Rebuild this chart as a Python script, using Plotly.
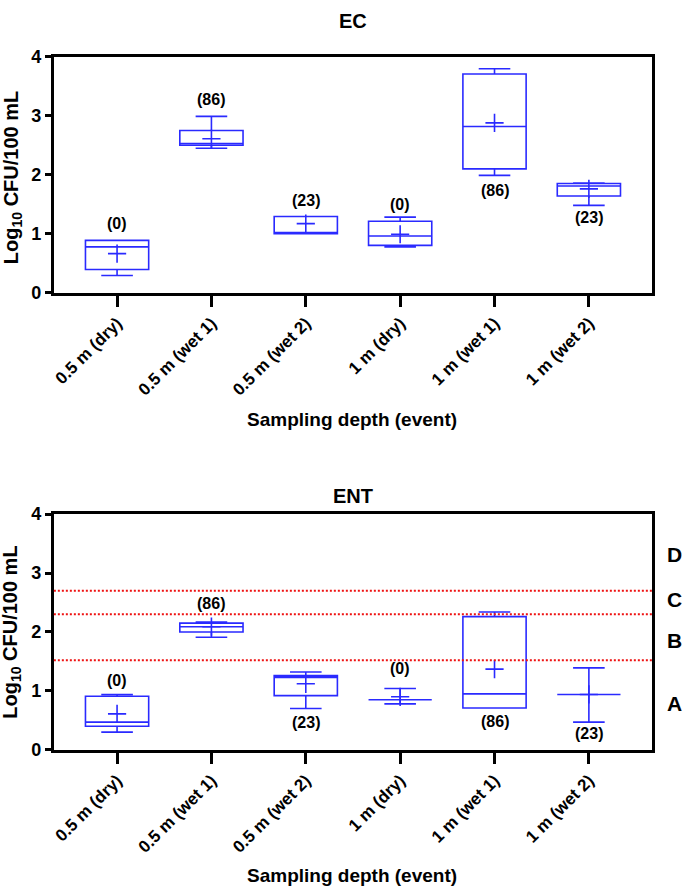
import plotly.graph_objects as go

categories = ["0.5 m (dry)", "0.5 m (wet 1)", "0.5 m (wet 2)", "1 m (dry)", "1 m (wet 1)", "1 m (wet 2)"]

# EC panel
ec_low = [0.29, 2.45, 1.00, 0.775, 1.99, 1.48]
ec_q1 = [0.39, 2.50, 1.00, 0.80, 2.10, 1.64]
ec_med = [0.775, 2.53, 1.00, 0.96, 2.82, 1.81]
ec_q3 = [0.885, 2.75, 1.29, 1.21, 3.71, 1.85]
ec_high = [0.885, 2.99, 1.29, 1.28, 3.80, 1.86]
ec_mean = [0.66, 2.61, 1.17, 0.99, 2.88, 1.76]
ec_n = ["(0)", "(86)", "(23)", "(0)", "(86)", "(23)"]
ec_n_y = [1.18, 3.27, 1.57, 1.50, 1.73, 1.27]

# ENT panel
ent_low = [0.30, 1.91, 0.70, 0.78, 0.71, 0.47]
ent_q1 = [0.40, 2.00, 0.92, 0.85, 0.71, 0.94]
ent_med = [0.47, 2.09, 1.23, 0.85, 0.95, 0.94]
ent_q3 = [0.91, 2.15, 1.26, 0.85, 2.26, 0.94]
ent_high = [0.94, 2.17, 1.32, 1.04, 2.34, 1.39]
ent_mean = [0.61, 2.09, 1.12, 0.90, 1.37, 0.94]
ent_n = ["(0)", "(86)", "(23)", "(0)", "(86)", "(23)"]
ent_n_y = [1.18, 2.49, 0.46, 1.38, 0.48, 0.27]

thresholds = [2.70, 2.30, 1.52]
grade_labels = ["D", "C", "B", "A"]
grade_y = [3.32, 2.55, 1.86, 0.79]

BLUE = "#2a2aff"
FONT = "Liberation Sans, Arial, sans-serif"
W, H = 685, 895

fig = go.Figure()

def add_panel(xa, ya, low, q1, med, q3, high, mean):
    fig.add_trace(go.Box(
        x=categories, q1=q1, median=med, q3=q3, lowerfence=low, upperfence=high,
        width=0.67, whiskerwidth=0.5, boxpoints=False,
        line=dict(color=BLUE, width=1.6), fillcolor="rgba(0,0,0,0)",
        xaxis=xa, yaxis=ya, showlegend=False, hoverinfo="skip"))
    fig.add_trace(go.Scatter(
        x=categories, y=mean, mode="markers",
        marker=dict(symbol="cross-thin", size=13, line=dict(color=BLUE, width=1.6)),
        xaxis=xa, yaxis=ya, showlegend=False, hoverinfo="skip"))

add_panel("x", "y", ec_low, ec_q1, ec_med, ec_q3, ec_high, ec_mean)
add_panel("x2", "y2", ent_low, ent_q1, ent_med, ent_q3, ent_high, ent_mean)

xdom = [52 / W, 652 / W]
top_dom = [1 - 289 / H, 1 - 48 / H]
bot_dom = [1 - 756.7 / H, 1 - 515.7 / H]

xax = dict(domain=xdom, range=[-0.67, 5.67], type="category", showgrid=False, zeroline=False,
           showline=True, linewidth=3, linecolor="black", mirror=True,
           ticks="outside", ticklen=11, tickwidth=3, tickcolor="black", tickangle=-45,
           tickfont=dict(family=FONT, size=17, color="black", weight="bold"),
           categoryorder="array", categoryarray=categories)
yax = dict(range=[0, 4], tickvals=[0, 1, 2, 3, 4], showgrid=False, zeroline=False,
           showline=True, linewidth=3, linecolor="black", mirror=True,
           ticks="outside", ticklen=6, tickwidth=3, tickcolor="black",
           tickfont=dict(family=FONT, size=18, color="black", weight="bold"))

fig.update_layout(
    width=W, height=H, margin=dict(l=0, r=0, t=0, b=0),
    paper_bgcolor="white", plot_bgcolor="white",
    xaxis=dict(xax, anchor="y"),
    yaxis=dict(yax, domain=top_dom, anchor="x"),
    xaxis2=dict(xax, anchor="y2"),
    yaxis2=dict(yax, domain=bot_dom, anchor="x2"),
)

# threshold lines
for t in thresholds:
    fig.add_shape(type="line", xref="x2 domain", yref="y2", x0=0, x1=1, y0=t, y1=t,
                  line=dict(color="#ee1111", width=2, dash="2px,2px"))

ann = []
bold = lambda s: dict(family=FONT, size=s, color="black", weight="bold")
def A(**kw):
    d = dict(showarrow=False, xanchor="center", yanchor="middle")
    d.update(kw)
    ann.append(d)

for c, t, yv in zip(categories, ec_n, ec_n_y):
    A(x=c, y=yv, xref="x", yref="y", text=t, font=bold(16))
for c, t, yv in zip(categories, ent_n, ent_n_y):
    A(x=c, y=yv, xref="x2", yref="y2", text=t, font=bold(16))
for g, yv in zip(grade_labels, grade_y):
    A(x=674.5 / W, y=yv, xref="paper", yref="y2", text=g, font=bold(21))

cx = 352 / W
A(x=cx, y=1 - 11 / H, xref="paper", yref="paper", text="EC", font=bold(20))
A(x=cx, y=1 - 497 / H, xref="paper", yref="paper", text="ENT", font=bold(20))
A(x=351 / W, y=1 - 419 / H, xref="paper", yref="paper", text="Sampling depth (event)", font=bold(19))
A(x=351 / W, y=1 - 885 / H, xref="paper", yref="paper", text="Sampling depth (event)", font=bold(19))
A(x=10 / W, y=1 - 171 / H, xref="paper", yref="paper", text="Log<sub>10</sub> CFU/100 mL",
  textangle=-90, font=bold(20))
A(x=10 / W, y=1 - 636 / H, xref="paper", yref="paper", text="Log<sub>10</sub> CFU/100 mL",
  textangle=-90, font=bold(20))
fig.update_layout(annotations=ann)

fig.write_html("out.html", config={"displayModeBar": False},
               post_script="document.body.style.margin='0';document.body.style.overflow='hidden';")
